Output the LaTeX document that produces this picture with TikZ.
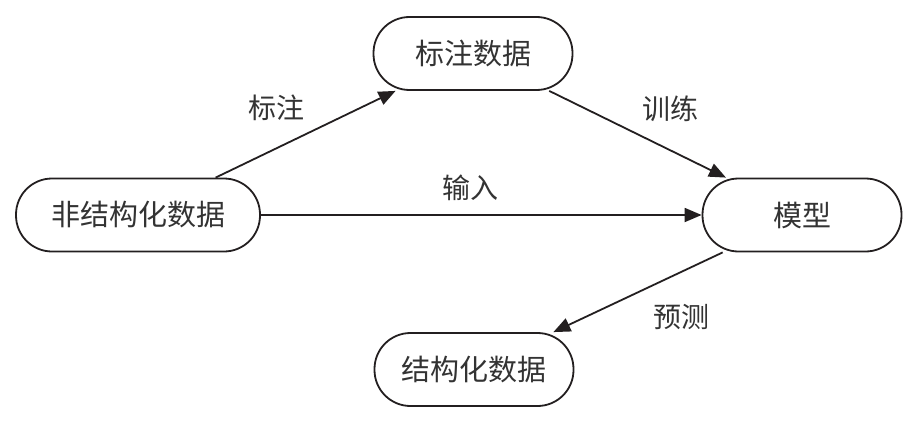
\documentclass[tikz,border=0pt]{standalone}
\usepackage{fontspec}
\setmainfont{Noto Sans CJK SC}
\usetikzlibrary{arrows.meta}
\definecolor{ink}{HTML}{231F20}
\definecolor{txt}{HTML}{333333}
\tikzset{
  box/.style={draw=ink, line width=1.8pt, rounded corners=36pt, minimum height=73pt,
    inner sep=0pt, text=txt, font=\fontsize{29pt}{32pt}\selectfont},
  lbl/.style={text=txt, font=\fontsize{28pt}{30pt}\selectfont, inner sep=0pt},
  conn/.style={draw=ink, line width=1.8pt, -{Triangle[length=17pt,width=14pt]}}
}
\begin{document}
\begin{tikzpicture}[x=1pt,y=-1pt]
\useasboundingbox (0,0) rectangle (912,420);
\node[box, minimum width=244pt] (src) at (138,215) {非结构化数据};
\node[box, minimum width=199pt] (lab) at (473,53.5) {标注数据};
\node[box, minimum width=199pt] (mod) at (802,215) {模型};
\node[box, minimum width=199pt] (out) at (474,369.5) {结构化数据};
\draw[conn] (src) -- (lab);
\draw[conn] (lab) -- (mod);
\draw[conn] (src) -- (mod);
\draw[conn] (mod) -- (out);
\node[lbl] (l1) at (276,108) {标注};
\node[lbl] (l2) at (670,109) {训练};
\node[lbl] (l3) at (470,188) {输入};
\node[lbl] (l4) at (681,317) {预测};
\end{tikzpicture}
\end{document}
